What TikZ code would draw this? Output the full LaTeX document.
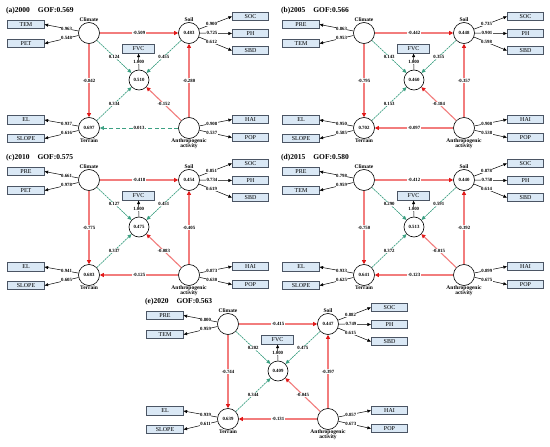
\documentclass[tikz,border=0pt]{standalone}
\usepackage{fontspec}
\setmainfont{Liberation Serif}
\usetikzlibrary{arrows.meta}
\definecolor{boxfill}{RGB}{218,232,245}
\definecolor{boxdraw}{RGB}{75,85,100}
\definecolor{negline}{RGB}{242,125,125}
\definecolor{neghead}{RGB}{225,25,25}
\definecolor{posline}{RGB}{60,160,130}
\tikzset{
  lat/.style={circle,draw=black,fill=white,line width=0.6pt,minimum size=21pt,inner sep=0pt,font=\fontsize{4.8}{5}\selectfont\bfseries},
  indbox/.style={rectangle,draw=boxdraw,fill=boxfill,line width=0.7pt,minimum width=36.5pt,minimum height=8.5pt,inner sep=0pt,font=\fontsize{6}{6}\selectfont},
  fvcbox/.style={indbox,minimum width=32pt},
  latlbl/.style={font=\fontsize{5.5}{6}\selectfont\bfseries,inner sep=0pt,align=center},
  coef/.style={fill=white,inner sep=0.4pt,font=\fontsize{4.8}{5}\selectfont\bfseries},
  ttl/.style={anchor=west,inner sep=0pt,font=\fontsize{7.5}{8}\selectfont\bfseries},
  negpath/.style={draw=negline,line width=1.1pt,-{Triangle[length=4pt,width=4pt,color=neghead]}},
  pospath/.style={draw=posline,line width=0.7pt,dash pattern=on 2pt off 0.8pt,-{Triangle[length=4pt,width=3.6pt,color=posline]}},
  posdash/.style={draw=posline,line width=0.8pt,dash pattern=on 4pt off 2.5pt,-{Triangle[length=4pt,width=3.6pt,color=posline]}},
  loadarrow/.style={draw=black,line width=0.5pt,-{Triangle[length=3.5pt,width=3pt]}},
}
\pgfkeys{/sem/.cd,
  title/.store in=\sTitle, ci/.store in=\sCi, cii/.store in=\sCii,
  cl/.store in=\sCl, cll/.store in=\sCll, soil/.store in=\sSoil,
  soc/.store in=\sSoc, ph/.store in=\sPh, sbd/.store in=\sSbd,
  cs/.store in=\sCs, cf/.store in=\sCf, ct/.store in=\sCt, sf/.store in=\sSf,
  fvc/.store in=\sFvc, as/.store in=\sAs, af/.store in=\sAf, tf/.store in=\sTf,
  ter/.store in=\sTer, el/.store in=\sEl, slope/.store in=\sSlope,
  atc/.store in=\sAt, hai/.store in=\sHai, pop/.store in=\sPop,
  atstyle/.code={\tikzset{atpath/.style={#1}}}}
\newcommand{\sempanel}[4]{%
  \pgfkeys{/sem/.cd,atstyle=negpath,#4}%
  \begin{scope}[shift={(#2,#3)}]
    \node[ttl] (#1title) at (6,11) {\sTitle};
    % latent variables
    \node[lat] (#1c) at (89,33) {};
    \node[latlbl] (#1cl) at (89,19.5) {Climate};
    \node[lat] (#1s) at (189,33) {\sSoil};
    \node[latlbl] (#1sl) at (189,20) {Soil};
    \node[lat,minimum size=20pt] (#1f) at (139,80) {\sFvc};
    \node[lat] (#1t) at (89,128) {\sTer};
    \node[latlbl,anchor=north] (#1tl) at (89,138.5) {Terrain};
    \node[lat] (#1a) at (189,128) {};
    \node[latlbl,anchor=north] (#1al) at (189,138.5) {Anthropogenic\\[-0.6pt]activity};
    % indicator boxes
    \node[indbox] (#1b1) at (26,24.5) {\sCi};
    \node[indbox] (#1b2) at (26,43.5) {\sCii};
    \node[indbox] (#1el) at (26,120) {EL};
    \node[indbox] (#1sp) at (26,138.5) {SLOPE};
    \node[indbox] (#1soc) at (250.5,16.5) {SOC};
    \node[indbox] (#1ph) at (250.5,33.5) {PH};
    \node[indbox] (#1sbd) at (250.5,50.5) {SBD};
    \node[indbox] (#1hai) at (250.5,119.5) {HAI};
    \node[indbox] (#1pop) at (250.5,137.5) {POP};
    \node[fvcbox] (#1fb) at (138.5,49) {FVC};
    % loadings
    \draw[loadarrow] (#1c) -- (#1b1.east) node[coef,pos=0.35] {\sCl};
    \draw[loadarrow] (#1c) -- (#1b2.east) node[coef,pos=0.35] {\sCll};
    \draw[loadarrow] (#1t) -- (#1el.east) node[coef,pos=0.35] {\sEl};
    \draw[loadarrow] (#1t) -- (#1sp.east) node[coef,pos=0.35] {\sSlope};
    \draw[loadarrow] (#1s) -- (#1soc.west) node[coef,pos=0.38] {\sSoc};
    \draw[loadarrow] (#1s) -- (#1ph.west) node[coef,pos=0.38] {\sPh};
    \draw[loadarrow] (#1s) -- (#1sbd.west) node[coef,pos=0.38] {\sSbd};
    \draw[loadarrow] (#1a) -- (#1hai.west) node[coef,pos=0.38] {\sHai};
    \draw[loadarrow] (#1a) -- (#1pop.west) node[coef,pos=0.38] {\sPop};
    \draw[loadarrow] (#1f) -- (#1fb) node[coef,midway] {1.000};
    % paths
    \draw[negpath] (#1c) -- (#1s) node[coef,midway] {\sCs};
    \draw[negpath] (#1c) -- (#1t) node[coef,midway] {\sCt};
    \draw[negpath] (#1a) -- (#1s) node[coef,midway] {\sAs};
    \draw[atpath] (#1a) -- (#1t) node[coef,midway] {\sAt};
    \draw[pospath] (#1c) -- (#1f) node[coef,midway] {\sCf};
    \draw[pospath] (#1s) -- (#1f) node[coef,midway] {\sSf};
    \draw[pospath] (#1t) -- (#1f) node[coef,midway] {\sTf};
    \draw[negpath] (#1a) -- (#1f) node[coef,midway] {\sAf};
  \end{scope}}
\begin{document}
\begin{tikzpicture}[x=1pt,y=-1pt]
\useasboundingbox[fill=white] (0,0) rectangle (550,447);
\sempanel{a}{0}{0}{title={(a)2000\hspace{8pt}GOF:0.569},ci=TEM,cii=PET,cl=0.963,cll=0.548,
  soil=0.483,soc=0.900,ph=0.725,sbd=0.612,cs=-0.509,cf=0.124,ct=-0.842,sf=0.455,
  fvc=0.510,as=-0.280,af=-0.152,tf=0.334,ter=0.697,el=0.937,slope=0.616,
  atc=0.013,atstyle=posdash,hai=0.908,pop=0.537}
\sempanel{b}{275}{0}{title={(b)2005\hspace{8pt}GOF:0.566},ci=PRE,cii=TEM,cl=0.863,cll=0.953,
  soil=0.448,soc=0.735,ph=0.901,sbd=0.598,cs=-0.442,cf=0.143,ct=-0.795,sf=0.355,
  fvc=0.460,as=-0.357,af=-0.184,tf=0.153,ter=0.702,el=0.950,slope=0.585,
  atc=-0.097,hai=0.908,pop=0.538}
\sempanel{c}{0}{147}{title={(c)2010\hspace{8pt}GOF:0.575},ci=PRE,cii=PET,cl=0.661,cll=0.978,
  soil=0.454,soc=0.851,ph=0.734,sbd=0.619,cs=-0.418,cf=0.127,ct=-0.775,sf=0.451,
  fvc=0.475,as=-0.405,af=-0.083,tf=0.337,ter=0.683,el=0.941,slope=0.605,
  atc=-0.125,hai=0.873,pop=0.630}
\sempanel{d}{275}{147}{title={(d)2015\hspace{8pt}GOF:0.580},ci=PRE,cii=TEM,cl=0.798,cll=0.959,
  soil=0.440,soc=0.878,ph=0.758,sbd=0.614,cs=-0.412,cf=0.290,ct=-0.750,sf=0.591,
  fvc=0.513,as=-0.392,af=-0.015,tf=0.372,ter=0.641,el=0.933,slope=0.625,
  atc=-0.123,hai=0.899,pop=0.675}
\sempanel{e}{139}{291}{title={(e)2020\hspace{8pt}GOF:0.563},ci=PRE,cii=TEM,cl=0.800,cll=0.959,
  soil=0.447,soc=0.882,ph=0.749,sbd=0.615,cs=-0.415,cf=0.202,ct=-0.744,sf=0.475,
  fvc=0.409,as=-0.397,af=-0.045,tf=0.344,ter=0.639,el=0.939,slope=0.611,
  atc=-0.131,hai=0.857,pop=0.673}
\end{tikzpicture}
\end{document}
